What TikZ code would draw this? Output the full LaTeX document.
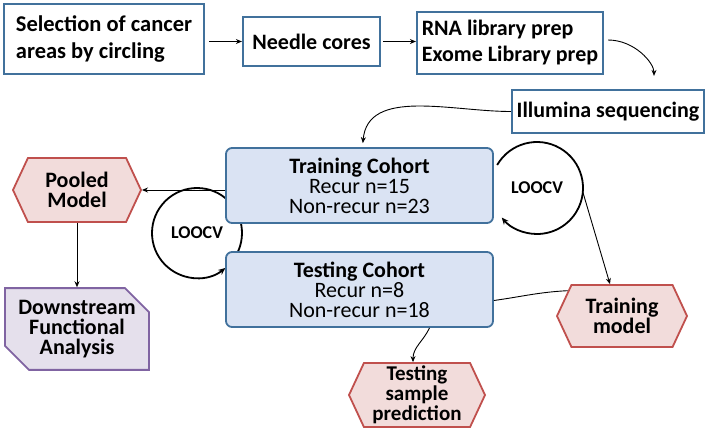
\documentclass[tikz,border=0pt]{standalone}
\usepackage{fontspec}
\setmainfont{Carlito}
\usetikzlibrary{arrows.meta,shapes.symbols,shapes.misc,calc}
\definecolor{bblue}{RGB}{65,113,156}
\definecolor{cfill}{RGB}{218,227,243}
\definecolor{hred}{RGB}{192,80,77}
\definecolor{hfill}{RGB}{242,220,219}
\definecolor{ppl}{RGB}{128,100,162}
\definecolor{pfill}{RGB}{229,224,236}
\tikzset{
  topbox/.style={draw=bblue, line width=2.2pt, fill=white, font=\fontsize{22}{26}\selectfont\bfseries, align=left, inner sep=0pt},
  cohort/.style={draw=bblue, line width=1.8pt, fill=cfill, rounded corners=6pt, minimum width=267pt, minimum height=75pt, align=center, font=\fontsize{22}{20}\selectfont, inner sep=0pt},
  hexa/.style={signal, signal to=west and east, signal pointer angle=130, draw=hred, line width=1.8pt, fill=hfill, font=\fontsize{22}{20}\selectfont\bfseries, align=center, inner sep=0pt},
  downbox/.style={chamfered rectangle, chamfered rectangle corners={north east,south west}, chamfered rectangle xsep=12pt, chamfered rectangle ysep=12pt, draw=ppl, line width=1.8pt, fill=pfill, font=\fontsize{22}{20}\selectfont\bfseries, align=center, inner sep=0pt, minimum width=144pt, minimum height=72pt},
  arr/.style={-{Stealth[length=6pt,width=5pt]}, line width=0.9pt},
  loopline/.style={line width=1.8pt},
  lbl/.style={font=\fontsize{18}{18}\selectfont\bfseries, inner sep=0pt}
}
\begin{document}
\begin{tikzpicture}[x=1pt,y=1pt]
\useasboundingbox (0,0) rectangle (709,-432);
% loop labels and loops (drawn first, boxes cover them)
\node[lbl] (loopL) at (197,-233) {LOOCV};
\node[lbl] (loopR) at (537,-188) {LOOCV};
\draw[loopline,-{Stealth[length=7pt,width=6pt]}] ($(loopL.center)+(-40:45)$) arc[start angle=-40, end angle=309, radius=45];
\draw[loopline,-{Stealth[length=7pt,width=6pt]}] ($(loopR.center)+(150:46)$) arc[start angle=150, end angle=-140, radius=46];
% top row
\node[topbox, minimum width=200pt, minimum height=70pt, font=\fontsize{22.5}{27}\selectfont\bfseries] (sel) at (104,-39) {Selection of cancer\\areas by circling};
\node[topbox, minimum width=137pt, minimum height=49pt] (needle) at (311.5,-41.5) {Needle cores};
\node[topbox, minimum width=186pt, minimum height=62pt] (rna) at (510,-43) {RNA library prep\\Exome Library prep};
\node[topbox, minimum width=192pt, minimum height=43pt] (illu) at (608,-111.5) {Illumina sequencing};
% cohorts
\node[cohort] (train) at (359.5,-185.5) {{\bfseries Training Cohort}\\Recur n=15\\Non-recur n=23};
\node[cohort] (test) at (359.5,-289.5) {{\bfseries Testing Cohort}\\Recur n=8\\Non-recur n=18};
% hexagons
\node[hexa, minimum width=128pt, minimum height=64pt] (pooled) at (77,-190) {Pooled\\Model};
\node[hexa, minimum width=130pt, minimum height=62pt] (tm) at (622,-316) {Training\\model};
\node[hexa, minimum width=136pt, minimum height=64pt, font=\fontsize{21}{20}\selectfont\bfseries] (tsp) at (417,-395) {Testing\\sample\\prediction};
\node[downbox] (down) at (77,-329) {Downstream\\Functional\\Analysis};
% connectors
\draw[arr] (sel.east |- needle.west) ++(4,0) -- (needle.west);
\draw[arr] (needle.east) ++(2,0) -- (rna.west |- needle.east);
\draw[arr, shorten >=13pt] ([shift={(4,3)}]rna.east) to[out=0,in=90] ([xshift=46pt]illu.north);
\draw[arr, shorten >=4pt] (illu.west) to[out=180,in=85] ([xshift=3pt]train.north);
\draw[arr] (train.west |- pooled.east) -- (pooled.east);
\draw[arr] (pooled.south) -- (down.north);
\draw[arr] ($(loopR.center)+(-5:46)$) -- ([xshift=-12pt]tm.north);
\draw[line width=0.9pt] ([yshift=-11pt]test.east) to[out=8,in=183] (tm.155);
\draw[arr] ([xshift=70pt]test.south) to[out=-115,in=90] ([xshift=-4pt]tsp.north);
\end{tikzpicture}
\end{document}
